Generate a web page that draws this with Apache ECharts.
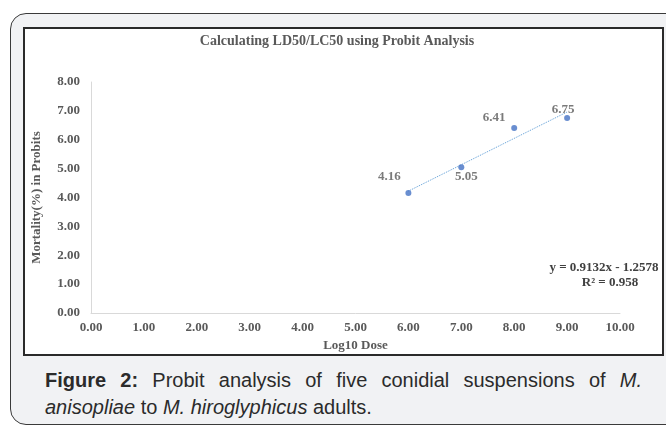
<!DOCTYPE html>
<html>
<head>
<meta charset="utf-8">
<script src="https://cdn.jsdelivr.net/npm/echarts@6/dist/echarts.min.js"></script>
<style>
  html, body { margin: 0; padding: 0; background: #ffffff; }
  body { width: 666px; height: 426px; position: relative; overflow: hidden; }
  #outer {
    position: absolute; left: 10px; top: 13px; width: 680px; height: 410px;
    background: #f1f2f4; border: 1.5px solid #3a3a3a; border-radius: 16px;
  }
  #inner {
    position: absolute; left: 23px; top: 27px; width: 637px; height: 325px;
    background: #ffffff; border: 2px solid #2a2a2a;
  }
  #grafico { position: absolute; left: 0; top: 0; width: 666px; height: 426px; }
  .caption {
    position: absolute; left: 45px; width: 597px;
    font-family: "Liberation Sans", Arial, sans-serif; font-size: 20px;
    line-height: 27px; color: #2b2b2b; white-space: nowrap;
  }
  #cap1 { top: 367px; text-align: justify; text-align-last: justify; white-space: normal; }
  #cap2 { top: 394px; }
</style>
</head>
<body>
<div id="outer"></div>
<div id="inner"></div>
<div class="caption" id="cap1"><b>Figure 2:</b> Probit analysis of five conidial suspensions of <i>M.</i></div>
<div class="caption" id="cap2"><i>anisopliae</i> to <i>M. hiroglyphicus</i> adults.</div>
<div id="grafico"></div>
<script>
// datos
const dosis = [6, 7, 8, 9];
const probits = [4.16, 5.05, 6.41, 6.75];
const etiquetas = ["4.16", "5.05", "6.41", "6.75"];
const pendiente = 0.9132;
const ordenada = -1.2578;
const ecuacion = "y = 0.9132x - 1.2578";
const r2 = "R² = 0.958";

// desplazamiento de cada etiqueta respecto al punto
const desplazamientos = [[-19, -16], [5, 9], [-20, -10], [-4, -8]];

const serif = '"Liberation Serif", "Times New Roman", serif';
const gris = "#595959";

const puntos = dosis.map((d, i) => ({
  value: [d, probits[i]],
  label: {
    show: true,
    position: "inside",
    offset: desplazamientos[i],
    formatter: etiquetas[i]
  }
}));

const tendencia = [
  [dosis[0], pendiente * dosis[0] + ordenada],
  [dosis[dosis.length - 1], pendiente * dosis[dosis.length - 1] + ordenada]
];

const grafico = echarts.init(document.getElementById("grafico"));

grafico.setOption({
  animation: false,
  title: {
    text: "Calculating LD50/LC50 using Probit Analysis",
    left: 332,
    top: 29,
    textAlign: "center",
    textStyle: { fontFamily: serif, fontSize: 14, fontWeight: "bold", color: gris }
  },
  grid: { left: 91, right: 46, top: 82, bottom: 113 },
  xAxis: {
    type: "value",
    min: 0, max: 10, interval: 1,
    name: "Log10 Dose",
    nameLocation: "middle",
    nameGap: 25,
    nameTextStyle: { fontFamily: serif, fontSize: 13, fontWeight: "bold", color: gris },
    axisLine: { lineStyle: { color: "#d9d9d9", width: 1 } },
    axisTick: { show: false },
    splitLine: { show: false },
    axisLabel: {
      margin: 8,
      fontFamily: serif, fontSize: 13, fontWeight: "bold", color: gris,
      formatter: v => v.toFixed(2)
    }
  },
  yAxis: {
    type: "value",
    min: 0, max: 8, interval: 1,
    name: "Mortality(%) in Probits",
    nameLocation: "middle",
    nameGap: 48,
    nameTextStyle: { fontFamily: serif, fontSize: 13, fontWeight: "bold", color: gris },
    axisLine: { show: true, lineStyle: { color: "#d9d9d9", width: 1 } },
    axisTick: { show: false },
    splitLine: { show: false },
    axisLabel: {
      margin: 11,
      fontFamily: serif, fontSize: 13, fontWeight: "bold", color: gris,
      formatter: v => v.toFixed(2)
    }
  },
  series: [
    {
      type: "line",
      data: tendencia,
      symbol: "none",
      lineStyle: { color: "#5b9bd5", width: 1, type: "dotted" },
      z: 1
    },
    {
      type: "scatter",
      data: puntos,
      symbolSize: 6,
      itemStyle: { color: "#4472c4" },
      label: { fontFamily: serif, fontSize: 13, fontWeight: "bold", color: gris },
      z: 2
    }
  ],
  graphic: [
    {
      type: "text", x: 604, y: 261,
      style: { text: ecuacion, font: 'bold 13px ' + serif, fill: "#404040", align: "center" }
    },
    {
      type: "text", x: 610, y: 276,
      style: { text: r2, font: 'bold 13px ' + serif, fill: "#404040", align: "center" }
    }
  ]
});
</script>
</body>
</html>
